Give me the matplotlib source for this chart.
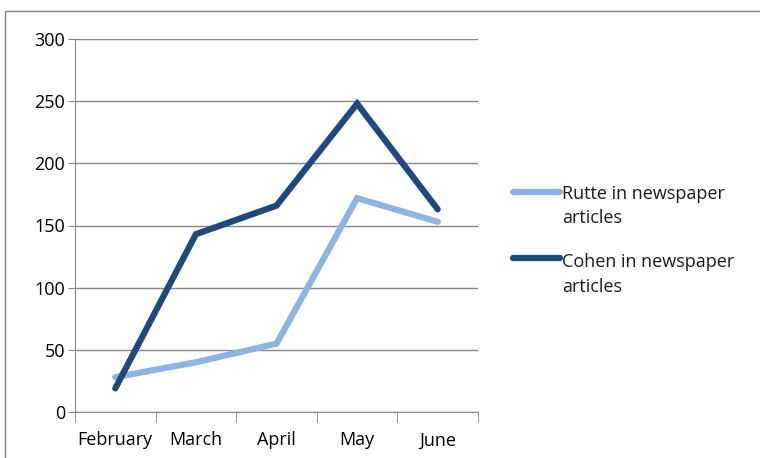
import matplotlib.pyplot as plt
from matplotlib.patches import Rectangle
from matplotlib.lines import Line2D

months = ['February', 'March', 'April', 'May', 'June']
rutte = [28, 40, 55, 172, 153]
cohen = [19, 143, 166, 248, 163]
labels = ['Rutte in newspaper\narticles', 'Cohen in newspaper\narticles']
colors = ['#8DB4E2', '#1F497D']

plt.rcParams['font.family'] = ['Open Sans', 'DejaVu Sans']

W, H = 760, 458
fig = plt.figure(figsize=(W/100, H/100), dpi=100)
ax = fig.add_axes([75/W, 46/H, 403/W, 373/H])

x = range(len(months))
for vals, c, z in [(rutte, colors[0], 3), (cohen, colors[1], 4)]:
    ax.plot(x, vals, color=c, lw=4.5, solid_capstyle='round',
            solid_joinstyle='miter', zorder=z)

ax.set_xlim(-0.5, 4.5)
ax.set_ylim(0, 300)
ax.set_yticks(range(0, 301, 50))
ax.set_xticks(x)
ax.set_xticklabels(months)
ax.set_xticks([i - 0.5 for i in range(6)], minor=True)
ax.tick_params(axis='x', which='major', length=0, pad=14, labelsize=13)
ax.tick_params(axis='x', which='minor', length=7, color='#868686', direction='out')
ax.tick_params(axis='y', length=5, color='#868686', labelsize=13, pad=2)
ax.yaxis.grid(True, color='#868686', lw=1)
ax.set_axisbelow(True)
for s in ['top', 'right']:
    ax.spines[s].set_visible(False)
for s in ['left', 'bottom']:
    ax.spines[s].set_color('#868686')

# legend, placed by hand
for lab, c, ly, ty in [(labels[0], colors[0], 192, 206), (labels[1], colors[1], 258, 274.5)]:
    fig.add_artist(Line2D([513/W, 560/W], [1 - ly/H, 1 - ly/H], color=c, lw=4.5,
                          solid_capstyle='round', transform=fig.transFigure))
    fig.text(562/W, 1 - ty/H, lab, fontsize=13, va='center', ha='left',
             linespacing=1.45, color='#1a1a1a')

fig.add_artist(Rectangle((5/W, -0.1), 1.0, (H - 11)/H + 0.1,
                         transform=fig.transFigure, fill=False,
                         edgecolor='#7f7f7f', lw=1))

fig.savefig('out.png', dpi=100)
